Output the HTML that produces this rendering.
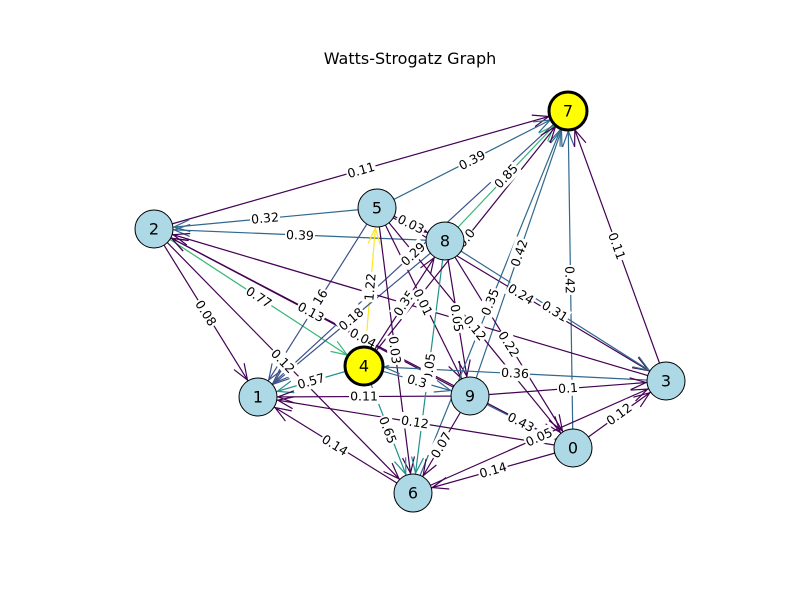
<!DOCTYPE html>
<html><head><meta charset="utf-8"><style>
html,body{margin:0;padding:0;background:#fff;}
svg{display:block;font-family:"DejaVu Sans","Liberation Sans",sans-serif;}
svg marker{overflow:visible;}
.el rect{fill:#fff;}
.el text{font-size:12.5px;text-anchor:middle;dominant-baseline:central;fill:#000;}
.n text{font-size:16px;text-anchor:middle;dominant-baseline:central;}
</style></head><body>
<svg width="800" height="600" viewBox="0 0 800 600">
<defs>
<marker id="p" markerUnits="userSpaceOnUse" refX="0" refY="0" markerWidth="1" markerHeight="1" orient="auto" style="overflow:visible"><path d="M-36,-6 L-20,0 L-36,6" fill="none" stroke="#440154" stroke-width="1.2"/></marker>
<marker id="b" markerUnits="userSpaceOnUse" refX="0" refY="0" markerWidth="1" markerHeight="1" orient="auto" style="overflow:visible"><path d="M-36,-6 L-20,0 L-36,6" fill="none" stroke="#31688e" stroke-width="1.2"/></marker>
<marker id="i" markerUnits="userSpaceOnUse" refX="0" refY="0" markerWidth="1" markerHeight="1" orient="auto" style="overflow:visible"><path d="M-36,-6 L-20,0 L-36,6" fill="none" stroke="#3b528b" stroke-width="1.2"/></marker>
<marker id="g" markerUnits="userSpaceOnUse" refX="0" refY="0" markerWidth="1" markerHeight="1" orient="auto" style="overflow:visible"><path d="M-36,-6 L-20,0 L-36,6" fill="none" stroke="#35b779" stroke-width="1.2"/></marker>
<marker id="t" markerUnits="userSpaceOnUse" refX="0" refY="0" markerWidth="1" markerHeight="1" orient="auto" style="overflow:visible"><path d="M-36,-6 L-20,0 L-36,6" fill="none" stroke="#21918c" stroke-width="1.2"/></marker>
<marker id="y" markerUnits="userSpaceOnUse" refX="0" refY="0" markerWidth="1" markerHeight="1" orient="auto" style="overflow:visible"><path d="M-36,-6 L-20,0 L-36,6" fill="none" stroke="#fde725" stroke-width="1.2"/></marker>
</defs>
<text x="410" y="64" font-size="16" text-anchor="middle">Watts-Strogatz Graph</text>
<g stroke-width="1.2" fill="none">
<line x1="154" y1="229" x2="568" y2="111" stroke="#440154" marker-end="url(#p)"/>
<line x1="377" y1="208" x2="568" y2="111" stroke="#31688e" marker-end="url(#b)"/>
<line x1="445" y1="241" x2="568" y2="111" stroke="#35b779" marker-end="url(#g)"/>
<line x1="377" y1="208" x2="154" y2="229" stroke="#31688e" marker-end="url(#b)"/>
<line x1="445" y1="241" x2="154" y2="229" stroke="#31688e" marker-end="url(#b)"/>
<line x1="470" y1="396" x2="568" y2="111" stroke="#31688e" marker-end="url(#b)"/>
<line x1="573" y1="448" x2="568" y2="111" stroke="#31688e" marker-end="url(#b)"/>
<line x1="666" y1="381" x2="568" y2="111" stroke="#440154" marker-end="url(#p)"/>
<line x1="154" y1="229" x2="364" y2="366" stroke="#35b779" marker-end="url(#g)"/>
<line x1="377" y1="208" x2="258" y2="397" stroke="#3b528b" marker-end="url(#i)"/>
<line x1="470" y1="396" x2="154" y2="229" stroke="#440154" marker-end="url(#p)"/>
<line x1="364" y1="366" x2="377" y2="208" stroke="#fde725" marker-end="url(#y)"/>
<line x1="568" y1="111" x2="258" y2="397" stroke="#3b528b" marker-end="url(#i)"/>
<line x1="364" y1="366" x2="445" y2="241" stroke="#440154" marker-end="url(#p)"/>
<line x1="377" y1="208" x2="666" y2="381" stroke="#440154" marker-end="url(#p)"/>
<line x1="445" y1="241" x2="666" y2="381" stroke="#31688e" marker-end="url(#b)"/>
<line x1="154" y1="229" x2="258" y2="397" stroke="#440154" marker-end="url(#p)"/>
<line x1="445" y1="241" x2="258" y2="397" stroke="#3b528b" marker-end="url(#i)"/>
<line x1="154" y1="229" x2="413" y2="493" stroke="#440154" marker-end="url(#p)"/>
<line x1="377" y1="208" x2="413" y2="493" stroke="#440154" marker-end="url(#p)"/>
<line x1="377" y1="208" x2="470" y2="396" stroke="#440154" marker-end="url(#p)"/>
<line x1="445" y1="241" x2="470" y2="396" stroke="#440154" marker-end="url(#p)"/>
<line x1="377" y1="208" x2="573" y2="448" stroke="#440154" marker-end="url(#p)"/>
<line x1="413" y1="493" x2="568" y2="111" stroke="#31688e" marker-end="url(#b)"/>
<line x1="445" y1="241" x2="573" y2="448" stroke="#440154" marker-end="url(#p)"/>
<line x1="364" y1="366" x2="258" y2="397" stroke="#21918c" marker-end="url(#t)"/>
<line x1="666" y1="381" x2="364" y2="366" stroke="#31688e" marker-end="url(#b)"/>
<line x1="470" y1="396" x2="666" y2="381" stroke="#440154" marker-end="url(#p)"/>
<line x1="470" y1="396" x2="258" y2="397" stroke="#440154" marker-end="url(#p)"/>
<line x1="445" y1="241" x2="413" y2="493" stroke="#21918c" marker-end="url(#t)"/>
<line x1="470" y1="396" x2="573" y2="448" stroke="#31688e" marker-end="url(#b)"/>
<line x1="573" y1="448" x2="258" y2="397" stroke="#440154" marker-end="url(#p)"/>
<line x1="413" y1="493" x2="666" y2="381" stroke="#440154" marker-end="url(#p)"/>
<line x1="573" y1="448" x2="666" y2="381" stroke="#440154" marker-end="url(#p)"/>
<line x1="413" y1="493" x2="258" y2="397" stroke="#440154" marker-end="url(#p)"/>
<line x1="364" y1="366" x2="413" y2="493" stroke="#21918c" marker-end="url(#t)"/>
<line x1="470" y1="396" x2="413" y2="493" stroke="#440154" marker-end="url(#p)"/>
<line x1="573" y1="448" x2="413" y2="493" stroke="#440154" marker-end="url(#p)"/>
<line x1="377" y1="208" x2="445" y2="241" stroke="#440154" marker-end="url(#p)"/>
<line x1="364" y1="366" x2="568" y2="111" stroke="#440154" marker-end="url(#p)"/>
<line x1="573" y1="448" x2="154" y2="229" stroke="#440154" marker-end="url(#p)"/>
<line x1="364" y1="366" x2="470" y2="396" stroke="#31688e" marker-end="url(#b)"/>
<line x1="666" y1="381" x2="154" y2="229" stroke="#440154" marker-end="url(#p)"/>
</g>
<g class="el">
<g transform="translate(361,170) rotate(-16)"><rect x="-15" y="-8" width="30" height="16"/><text>0.11</text></g>
<g transform="translate(472,160) rotate(-27)"><rect x="-15" y="-8" width="30" height="16"/><text>0.39</text></g>
<g transform="translate(506,176) rotate(-47)"><rect x="-15" y="-8" width="30" height="16"/><text>0.85</text></g>
<g transform="translate(265,218) rotate(-5)"><rect x="-15" y="-8" width="30" height="16"/><text>0.32</text></g>
<g transform="translate(300,235) rotate(2)"><rect x="-15" y="-8" width="30" height="16"/><text>0.39</text></g>
<g transform="translate(519,253) rotate(-71)"><rect x="-15" y="-8" width="30" height="16"/><text>0.42</text></g>
<g transform="translate(570,280) rotate(89)"><rect x="-15" y="-8" width="30" height="16"/><text>0.42</text></g>
<g transform="translate(617,246) rotate(70)"><rect x="-15" y="-8" width="30" height="16"/><text>0.11</text></g>
<g transform="translate(259,297) rotate(33)"><rect x="-15" y="-8" width="30" height="16"/><text>0.77</text></g>
<g transform="translate(317,302) rotate(-58)"><rect x="-15" y="-8" width="30" height="16"/><text>0.16</text></g>
<g transform="translate(311,312) rotate(28)"><rect x="-15" y="-8" width="30" height="16"/><text>0.13</text></g>
<g transform="translate(370,287) rotate(-85)"><rect x="-15" y="-8" width="30" height="16"/><text>1.22</text></g>
<g transform="translate(413,254) rotate(-43)"><rect x="-15" y="-8" width="30" height="16"/><text>0.29</text></g>
<g transform="translate(404,303) rotate(-57)"><rect x="-15" y="-8" width="30" height="16"/><text>0.35</text></g>
<g transform="translate(521,294) rotate(31)"><rect x="-15" y="-8" width="30" height="16"/><text>0.24</text></g>
<g transform="translate(555,311) rotate(32)"><rect x="-15" y="-8" width="30" height="16"/><text>0.31</text></g>
<g transform="translate(206,313) rotate(58)"><rect x="-15" y="-8" width="30" height="16"/><text>0.08</text></g>
<g transform="translate(351,319) rotate(-40)"><rect x="-15" y="-8" width="30" height="16"/><text>0.18</text></g>
<g transform="translate(283,361) rotate(46)"><rect x="-15" y="-8" width="30" height="16"/><text>0.12</text></g>
<g transform="translate(395,350) rotate(83)"><rect x="-15" y="-8" width="30" height="16"/><text>0.03</text></g>
<g transform="translate(423,302) rotate(64)"><rect x="-15" y="-8" width="30" height="16"/><text>0.01</text></g>
<g transform="translate(457,318) rotate(81)"><rect x="-15" y="-8" width="30" height="16"/><text>0.05</text></g>
<g transform="translate(475,328) rotate(51)"><rect x="-15" y="-8" width="30" height="16"/><text>0.12</text></g>
<g transform="translate(490,302) rotate(-68)"><rect x="-15" y="-8" width="30" height="16"/><text>0.35</text></g>
<g transform="translate(509,344) rotate(58)"><rect x="-15" y="-8" width="30" height="16"/><text>0.22</text></g>
<g transform="translate(311,381) rotate(-16)"><rect x="-15" y="-8" width="30" height="16"/><text>0.57</text></g>
<g transform="translate(515,373) rotate(3)"><rect x="-15" y="-8" width="30" height="16"/><text>0.36</text></g>
<g transform="translate(568,388) rotate(-4)"><rect x="-11" y="-8" width="22" height="16"/><text>0.1</text></g>
<g transform="translate(364,396) rotate(0)"><rect x="-15" y="-8" width="30" height="16"/><text>0.11</text></g>
<g transform="translate(429,367) rotate(-83)"><rect x="-15" y="-8" width="30" height="16"/><text>0.05</text></g>
<g transform="translate(521,422) rotate(27)"><rect x="-15" y="-8" width="30" height="16"/><text>0.43</text></g>
<g transform="translate(415,422) rotate(9)"><rect x="-15" y="-8" width="30" height="16"/><text>0.12</text></g>
<g transform="translate(539,437) rotate(-24)"><rect x="-15" y="-8" width="30" height="16"/><text>0.05</text></g>
<g transform="translate(619,414) rotate(-36)"><rect x="-15" y="-8" width="30" height="16"/><text>0.12</text></g>
<g transform="translate(335,445) rotate(32)"><rect x="-15" y="-8" width="30" height="16"/><text>0.14</text></g>
<g transform="translate(388,430) rotate(69)"><rect x="-15" y="-8" width="30" height="16"/><text>0.65</text></g>
<g transform="translate(441,445) rotate(-60)"><rect x="-15" y="-8" width="30" height="16"/><text>0.07</text></g>
<g transform="translate(493,470) rotate(-16)"><rect x="-15" y="-8" width="30" height="16"/><text>0.14</text></g>
<g transform="translate(411,224) rotate(26)"><rect x="-15" y="-8" width="30" height="16"/><text>0.03</text></g>
<g transform="translate(466,238) rotate(-51)"><rect x="-10" y="-8" width="20" height="16"/><text>0.0</text></g>
<g transform="translate(363,338) rotate(28)"><rect x="-15" y="-8" width="30" height="16"/><text>0.04</text></g>
<g transform="translate(417,381) rotate(16)"><rect x="-15" y="-8" width="30" height="16"/><text>0.3</text></g>
</g>
<g class="n" stroke="#000">
<circle cx="568" cy="111" r="19" fill="#ffff00" stroke-width="3"/>
<circle cx="154" cy="229" r="19" fill="#add8e6" stroke-width="1"/>
<circle cx="377" cy="208" r="19" fill="#add8e6" stroke-width="1"/>
<circle cx="445" cy="241" r="19" fill="#add8e6" stroke-width="1"/>
<circle cx="364" cy="366" r="19" fill="#ffff00" stroke-width="3"/>
<circle cx="258" cy="397" r="19" fill="#add8e6" stroke-width="1"/>
<circle cx="470" cy="396" r="19" fill="#add8e6" stroke-width="1"/>
<circle cx="666" cy="381" r="19" fill="#add8e6" stroke-width="1"/>
<circle cx="573" cy="448" r="19" fill="#add8e6" stroke-width="1"/>
<circle cx="413" cy="493" r="19" fill="#add8e6" stroke-width="1"/>
</g>
<g class="n" stroke="none" fill="#000">
<text x="568" y="111">7</text><text x="154" y="229">2</text><text x="377" y="208">5</text>
<text x="445" y="241">8</text><text x="364" y="366">4</text><text x="258" y="397">1</text>
<text x="470" y="396">9</text><text x="666" y="381">3</text><text x="573" y="448">0</text>
<text x="413" y="493">6</text>
</g>
</svg>
</body></html>
